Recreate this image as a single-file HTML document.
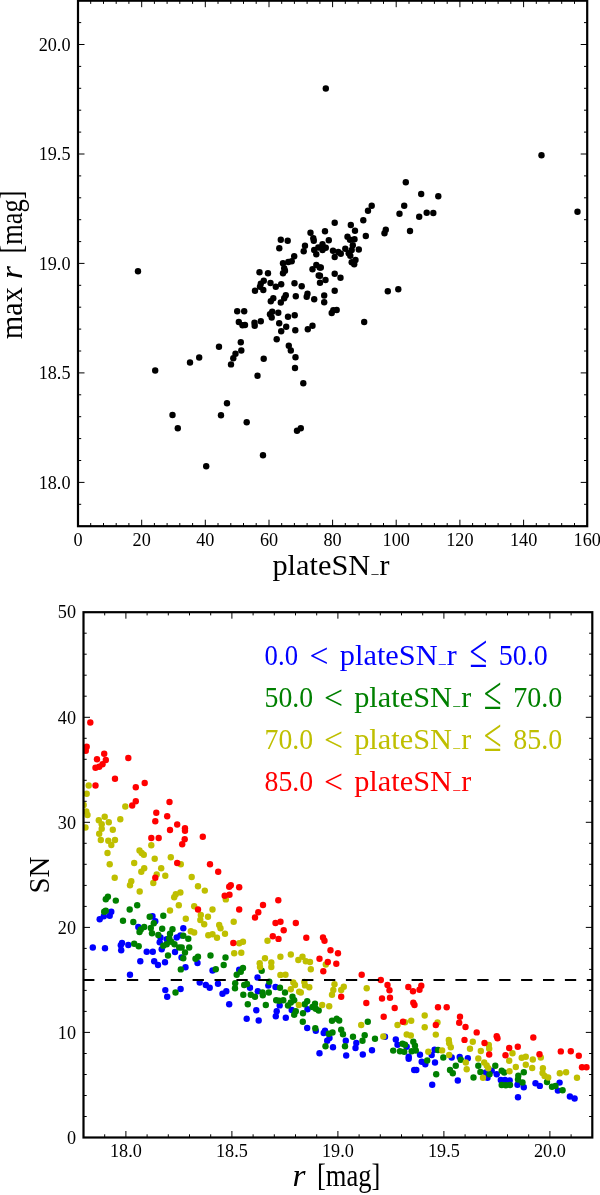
<!DOCTYPE html>
<html lang="en"><head><meta charset="utf-8"><title>plateSN_r</title>
<style>html,body{margin:0;padding:0;background:#fff}svg{display:block}text{font-family:"Liberation Serif","DejaVu Serif",serif;fill:#000;white-space:pre}.t{font-size:18.2px}.l{font-size:28.6px}.k{stroke:#000;stroke-width:1;fill:none}.f{stroke:#000;stroke-width:2.2;fill:none}</style></head><body>
<svg style="will-change:transform" width="600" height="1195" viewBox="0 0 600 1195">
<rect width="600" height="1195" fill="#fff"/>
<g fill="#000">
<circle cx="138.0" cy="271.2" r="3.2"/>
<circle cx="155.2" cy="370.5" r="3.2"/>
<circle cx="190.0" cy="362.5" r="3.2"/>
<circle cx="199.2" cy="357.5" r="3.2"/>
<circle cx="219.0" cy="346.7" r="3.2"/>
<circle cx="231.0" cy="364.4" r="3.2"/>
<circle cx="172.5" cy="415.0" r="3.2"/>
<circle cx="177.8" cy="428.2" r="3.2"/>
<circle cx="206.2" cy="466.2" r="3.2"/>
<circle cx="221.0" cy="415.2" r="3.2"/>
<circle cx="227.0" cy="403.2" r="3.2"/>
<circle cx="280.8" cy="239.7" r="3.2"/>
<circle cx="287.7" cy="240.7" r="3.2"/>
<circle cx="279.3" cy="248.2" r="3.2"/>
<circle cx="310.5" cy="232.8" r="3.2"/>
<circle cx="313.3" cy="238.3" r="3.2"/>
<circle cx="313.8" cy="240.8" r="3.2"/>
<circle cx="305.0" cy="245.8" r="3.2"/>
<circle cx="303.7" cy="251.3" r="3.2"/>
<circle cx="314.2" cy="250.0" r="3.2"/>
<circle cx="318.3" cy="247.5" r="3.2"/>
<circle cx="316.3" cy="254.2" r="3.2"/>
<circle cx="294.2" cy="256.2" r="3.2"/>
<circle cx="291.7" cy="261.3" r="3.2"/>
<circle cx="288.3" cy="262.0" r="3.2"/>
<circle cx="283.0" cy="263.3" r="3.2"/>
<circle cx="284.2" cy="268.3" r="3.2"/>
<circle cx="285.0" cy="270.8" r="3.2"/>
<circle cx="283.0" cy="273.3" r="3.2"/>
<circle cx="259.5" cy="272.3" r="3.2"/>
<circle cx="268.0" cy="273.3" r="3.2"/>
<circle cx="316.3" cy="265.0" r="3.2"/>
<circle cx="312.5" cy="269.2" r="3.2"/>
<circle cx="319.7" cy="267.5" r="3.2"/>
<circle cx="318.7" cy="275.5" r="3.2"/>
<circle cx="263.8" cy="280.8" r="3.2"/>
<circle cx="260.8" cy="283.8" r="3.2"/>
<circle cx="260.0" cy="286.7" r="3.2"/>
<circle cx="255.0" cy="290.8" r="3.2"/>
<circle cx="263.3" cy="290.0" r="3.2"/>
<circle cx="270.5" cy="283.0" r="3.2"/>
<circle cx="275.8" cy="286.7" r="3.2"/>
<circle cx="281.2" cy="284.2" r="3.2"/>
<circle cx="294.5" cy="283.3" r="3.2"/>
<circle cx="301.7" cy="286.2" r="3.2"/>
<circle cx="320.0" cy="282.8" r="3.2"/>
<circle cx="273.3" cy="298.3" r="3.2"/>
<circle cx="285.8" cy="295.3" r="3.2"/>
<circle cx="284.2" cy="298.3" r="3.2"/>
<circle cx="295.8" cy="296.3" r="3.2"/>
<circle cx="307.5" cy="293.7" r="3.2"/>
<circle cx="306.7" cy="296.7" r="3.2"/>
<circle cx="314.2" cy="299.2" r="3.2"/>
<circle cx="371.7" cy="205.8" r="3.2"/>
<circle cx="368.0" cy="210.8" r="3.2"/>
<circle cx="363.3" cy="220.3" r="3.2"/>
<circle cx="404.2" cy="205.8" r="3.2"/>
<circle cx="399.5" cy="213.7" r="3.2"/>
<circle cx="419.2" cy="216.7" r="3.2"/>
<circle cx="410.0" cy="231.0" r="3.2"/>
<circle cx="385.8" cy="229.7" r="3.2"/>
<circle cx="384.5" cy="233.3" r="3.2"/>
<circle cx="334.7" cy="222.7" r="3.2"/>
<circle cx="350.8" cy="225.0" r="3.2"/>
<circle cx="325.0" cy="231.2" r="3.2"/>
<circle cx="355.0" cy="230.8" r="3.2"/>
<circle cx="365.8" cy="236.0" r="3.2"/>
<circle cx="347.5" cy="236.7" r="3.2"/>
<circle cx="350.0" cy="239.7" r="3.2"/>
<circle cx="354.5" cy="239.2" r="3.2"/>
<circle cx="328.8" cy="240.3" r="3.2"/>
<circle cx="322.5" cy="244.2" r="3.2"/>
<circle cx="325.8" cy="247.8" r="3.2"/>
<circle cx="322.5" cy="250.0" r="3.2"/>
<circle cx="352.8" cy="245.3" r="3.2"/>
<circle cx="345.3" cy="248.8" r="3.2"/>
<circle cx="351.7" cy="250.0" r="3.2"/>
<circle cx="358.8" cy="249.5" r="3.2"/>
<circle cx="333.0" cy="250.8" r="3.2"/>
<circle cx="338.3" cy="252.0" r="3.2"/>
<circle cx="340.8" cy="253.8" r="3.2"/>
<circle cx="334.7" cy="257.0" r="3.2"/>
<circle cx="348.7" cy="253.3" r="3.2"/>
<circle cx="350.3" cy="255.8" r="3.2"/>
<circle cx="355.5" cy="260.0" r="3.2"/>
<circle cx="351.7" cy="262.2" r="3.2"/>
<circle cx="354.2" cy="264.2" r="3.2"/>
<circle cx="320.8" cy="267.5" r="3.2"/>
<circle cx="320.0" cy="275.8" r="3.2"/>
<circle cx="325.5" cy="280.0" r="3.2"/>
<circle cx="334.7" cy="273.8" r="3.2"/>
<circle cx="340.5" cy="277.7" r="3.2"/>
<circle cx="334.7" cy="290.8" r="3.2"/>
<circle cx="324.2" cy="295.5" r="3.2"/>
<circle cx="387.8" cy="291.2" r="3.2"/>
<circle cx="398.3" cy="289.2" r="3.2"/>
<circle cx="270.8" cy="301.3" r="3.2"/>
<circle cx="280.8" cy="302.5" r="3.2"/>
<circle cx="237.2" cy="311.2" r="3.2"/>
<circle cx="244.2" cy="311.2" r="3.2"/>
<circle cx="272.2" cy="311.7" r="3.2"/>
<circle cx="270.0" cy="314.2" r="3.2"/>
<circle cx="271.7" cy="317.5" r="3.2"/>
<circle cx="278.3" cy="312.8" r="3.2"/>
<circle cx="294.7" cy="315.2" r="3.2"/>
<circle cx="288.0" cy="316.7" r="3.2"/>
<circle cx="238.8" cy="322.0" r="3.2"/>
<circle cx="242.5" cy="325.3" r="3.2"/>
<circle cx="245.0" cy="325.0" r="3.2"/>
<circle cx="254.5" cy="322.8" r="3.2"/>
<circle cx="254.7" cy="325.8" r="3.2"/>
<circle cx="260.8" cy="321.3" r="3.2"/>
<circle cx="279.2" cy="323.3" r="3.2"/>
<circle cx="286.2" cy="326.7" r="3.2"/>
<circle cx="281.2" cy="331.3" r="3.2"/>
<circle cx="295.3" cy="330.3" r="3.2"/>
<circle cx="312.5" cy="325.8" r="3.2"/>
<circle cx="307.8" cy="329.2" r="3.2"/>
<circle cx="276.7" cy="339.2" r="3.2"/>
<circle cx="240.8" cy="342.2" r="3.2"/>
<circle cx="241.3" cy="350.5" r="3.2"/>
<circle cx="235.5" cy="353.8" r="3.2"/>
<circle cx="233.3" cy="358.3" r="3.2"/>
<circle cx="288.8" cy="345.8" r="3.2"/>
<circle cx="290.8" cy="350.5" r="3.2"/>
<circle cx="295.5" cy="357.2" r="3.2"/>
<circle cx="263.7" cy="358.7" r="3.2"/>
<circle cx="295.0" cy="368.0" r="3.2"/>
<circle cx="257.5" cy="375.8" r="3.2"/>
<circle cx="303.3" cy="383.3" r="3.2"/>
<circle cx="324.2" cy="302.2" r="3.2"/>
<circle cx="336.7" cy="310.0" r="3.2"/>
<circle cx="333.3" cy="310.3" r="3.2"/>
<circle cx="331.7" cy="313.0" r="3.2"/>
<circle cx="364.2" cy="322.0" r="3.2"/>
<circle cx="246.7" cy="422.2" r="3.2"/>
<circle cx="300.8" cy="428.3" r="3.2"/>
<circle cx="297.0" cy="430.8" r="3.2"/>
<circle cx="263.0" cy="455.3" r="3.2"/>
<circle cx="405.8" cy="182.2" r="3.2"/>
<circle cx="421.2" cy="194.0" r="3.2"/>
<circle cx="438.3" cy="196.2" r="3.2"/>
<circle cx="426.7" cy="212.7" r="3.2"/>
<circle cx="433.3" cy="213.0" r="3.2"/>
<circle cx="541.5" cy="155.3" r="3.2"/>
<circle cx="577.5" cy="211.7" r="3.2"/>
<circle cx="325.8" cy="88.5" r="3.2"/>
</g>
<path class="k" d="M90.7 526.2v-3.2M90.7 0.7v3.2M103.5 526.2v-3.2M103.5 0.7v3.2M116.2 526.2v-3.2M116.2 0.7v3.2M128.9 526.2v-3.2M128.9 0.7v3.2M141.7 526.2v-6.5M141.7 0.7v6.5M154.4 526.2v-3.2M154.4 0.7v3.2M167.1 526.2v-3.2M167.1 0.7v3.2M179.8 526.2v-3.2M179.8 0.7v3.2M192.6 526.2v-3.2M192.6 0.7v3.2M205.3 526.2v-6.5M205.3 0.7v6.5M218.0 526.2v-3.2M218.0 0.7v3.2M230.8 526.2v-3.2M230.8 0.7v3.2M243.5 526.2v-3.2M243.5 0.7v3.2M256.2 526.2v-3.2M256.2 0.7v3.2M269.0 526.2v-6.5M269.0 0.7v6.5M281.7 526.2v-3.2M281.7 0.7v3.2M294.4 526.2v-3.2M294.4 0.7v3.2M307.1 526.2v-3.2M307.1 0.7v3.2M319.9 526.2v-3.2M319.9 0.7v3.2M332.6 526.2v-6.5M332.6 0.7v6.5M345.3 526.2v-3.2M345.3 0.7v3.2M358.1 526.2v-3.2M358.1 0.7v3.2M370.8 526.2v-3.2M370.8 0.7v3.2M383.5 526.2v-3.2M383.5 0.7v3.2M396.2 526.2v-6.5M396.2 0.7v6.5M409.0 526.2v-3.2M409.0 0.7v3.2M421.7 526.2v-3.2M421.7 0.7v3.2M434.4 526.2v-3.2M434.4 0.7v3.2M447.2 526.2v-3.2M447.2 0.7v3.2M459.9 526.2v-6.5M459.9 0.7v6.5M472.6 526.2v-3.2M472.6 0.7v3.2M485.4 526.2v-3.2M485.4 0.7v3.2M498.1 526.2v-3.2M498.1 0.7v3.2M510.8 526.2v-3.2M510.8 0.7v3.2M523.6 526.2v-6.5M523.6 0.7v6.5M536.3 526.2v-3.2M536.3 0.7v3.2M549.0 526.2v-3.2M549.0 0.7v3.2M561.7 526.2v-3.2M561.7 0.7v3.2M574.5 526.2v-3.2M574.5 0.7v3.2M78.0 504.3h3.2M587.2 504.3h-3.2M78.0 482.4h6.5M587.2 482.4h-6.5M78.0 460.5h3.2M587.2 460.5h-3.2M78.0 438.6h3.2M587.2 438.6h-3.2M78.0 416.7h3.2M587.2 416.7h-3.2M78.0 394.8h3.2M587.2 394.8h-3.2M78.0 372.9h6.5M587.2 372.9h-6.5M78.0 351.0h3.2M587.2 351.0h-3.2M78.0 329.1h3.2M587.2 329.1h-3.2M78.0 307.2h3.2M587.2 307.2h-3.2M78.0 285.3h3.2M587.2 285.3h-3.2M78.0 263.4h6.5M587.2 263.4h-6.5M78.0 241.6h3.2M587.2 241.6h-3.2M78.0 219.7h3.2M587.2 219.7h-3.2M78.0 197.8h3.2M587.2 197.8h-3.2M78.0 175.9h3.2M587.2 175.9h-3.2M78.0 154.0h6.5M587.2 154.0h-6.5M78.0 132.1h3.2M587.2 132.1h-3.2M78.0 110.2h3.2M587.2 110.2h-3.2M78.0 88.3h3.2M587.2 88.3h-3.2M78.0 66.4h3.2M587.2 66.4h-3.2M78.0 44.5h6.5M587.2 44.5h-6.5M78.0 22.6h3.2M587.2 22.6h-3.2"/>
<rect class="f" x="78.0" y="0.7" width="509.2" height="525.5"/>
<text class="t" text-anchor="middle" x="78.0" y="546.3">0</text>
<text class="t" text-anchor="middle" x="141.7" y="546.3">20</text>
<text class="t" text-anchor="middle" x="205.3" y="546.3">40</text>
<text class="t" text-anchor="middle" x="269.0" y="546.3">60</text>
<text class="t" text-anchor="middle" x="332.6" y="546.3">80</text>
<text class="t" text-anchor="middle" x="396.2" y="546.3">100</text>
<text class="t" text-anchor="middle" x="459.9" y="546.3">120</text>
<text class="t" text-anchor="middle" x="523.6" y="546.3">140</text>
<text class="t" text-anchor="middle" x="587.2" y="546.3">160</text>
<text class="t" text-anchor="end" x="70.5" y="488.6">18.0</text>
<text class="t" text-anchor="end" x="70.5" y="379.1">18.5</text>
<text class="t" text-anchor="end" x="70.5" y="269.6">19.0</text>
<text class="t" text-anchor="end" x="70.5" y="160.2">19.5</text>
<text class="t" text-anchor="end" x="70.5" y="50.7">20.0</text>
<text class="l" y="574.5"><tspan x="272.4" textLength="97.8" lengthAdjust="spacingAndGlyphs">plateSN</tspan><tspan x="371.4" textLength="7.0" lengthAdjust="spacingAndGlyphs" dy="-1.6" font-size="14">_</tspan><tspan x="379.4" textLength="10.0" lengthAdjust="spacingAndGlyphs" dy="1.6">r</tspan></text>
<text class="l" transform="translate(22.3 339.2) rotate(-90) scale(1 1.07)" y="0"><tspan x="0.0" textLength="52.0" lengthAdjust="spacingAndGlyphs">max</tspan> <tspan x="60.2" textLength="13.0" lengthAdjust="spacingAndGlyphs" font-style="italic">r</tspan> <tspan x="85.6" textLength="63.2" lengthAdjust="spacingAndGlyphs">[mag]</tspan></text>
<clipPath id="c2"><rect x="83.5" y="612.2" width="508.8" height="525.3"/></clipPath>
<g clip-path="url(#c2)">
<g fill="#0000ff">
<circle cx="111.3" cy="911.7" r="3.2"/>
<circle cx="109.7" cy="915.8" r="3.2"/>
<circle cx="103.8" cy="916.3" r="3.2"/>
<circle cx="99.7" cy="919.2" r="3.2"/>
<circle cx="152.5" cy="916.3" r="3.2"/>
<circle cx="155.3" cy="921.3" r="3.2"/>
<circle cx="138.3" cy="927.0" r="3.2"/>
<circle cx="92.8" cy="947.5" r="3.2"/>
<circle cx="105.0" cy="948.3" r="3.2"/>
<circle cx="122.0" cy="943.0" r="3.2"/>
<circle cx="120.8" cy="945.3" r="3.2"/>
<circle cx="121.2" cy="950.3" r="3.2"/>
<circle cx="128.3" cy="945.0" r="3.2"/>
<circle cx="146.7" cy="951.7" r="3.2"/>
<circle cx="152.8" cy="951.7" r="3.2"/>
<circle cx="159.7" cy="942.2" r="3.2"/>
<circle cx="160.5" cy="937.5" r="3.2"/>
<circle cx="161.7" cy="949.2" r="3.2"/>
<circle cx="166.7" cy="939.2" r="3.2"/>
<circle cx="176.7" cy="937.5" r="3.2"/>
<circle cx="180.4" cy="935.4" r="3.2"/>
<circle cx="175.0" cy="952.0" r="3.2"/>
<circle cx="140.3" cy="961.2" r="3.2"/>
<circle cx="154.2" cy="961.2" r="3.2"/>
<circle cx="158.0" cy="965.0" r="3.2"/>
<circle cx="165.0" cy="962.2" r="3.2"/>
<circle cx="181.5" cy="957.5" r="3.2"/>
<circle cx="130.0" cy="974.7" r="3.2"/>
<circle cx="165.3" cy="990.1" r="3.2"/>
<circle cx="167.2" cy="996.7" r="3.2"/>
<circle cx="180.6" cy="989.0" r="3.2"/>
<circle cx="183.3" cy="928.3" r="3.2"/>
<circle cx="197.5" cy="963.0" r="3.2"/>
<circle cx="185.5" cy="967.2" r="3.2"/>
<circle cx="212.5" cy="970.5" r="3.2"/>
<circle cx="239.2" cy="969.7" r="3.2"/>
<circle cx="257.5" cy="977.5" r="3.2"/>
<circle cx="199.7" cy="982.5" r="3.2"/>
<circle cx="205.8" cy="985.0" r="3.2"/>
<circle cx="209.7" cy="987.7" r="3.2"/>
<circle cx="218.0" cy="983.8" r="3.2"/>
<circle cx="250.0" cy="987.7" r="3.2"/>
<circle cx="268.3" cy="985.6" r="3.2"/>
<circle cx="275.5" cy="987.0" r="3.2"/>
<circle cx="226.3" cy="991.2" r="3.2"/>
<circle cx="222.5" cy="993.7" r="3.2"/>
<circle cx="229.2" cy="1004.2" r="3.2"/>
<circle cx="257.8" cy="991.3" r="3.2"/>
<circle cx="256.3" cy="1010.3" r="3.2"/>
<circle cx="246.7" cy="1018.8" r="3.2"/>
<circle cx="258.7" cy="1020.5" r="3.2"/>
<circle cx="276.7" cy="1011.2" r="3.2"/>
<circle cx="275.8" cy="1016.3" r="3.2"/>
<circle cx="279.7" cy="1005.4" r="3.2"/>
<circle cx="285.8" cy="1017.8" r="3.2"/>
<circle cx="291.7" cy="1010.0" r="3.2"/>
<circle cx="307.5" cy="1009.2" r="3.2"/>
<circle cx="307.2" cy="1028.0" r="3.2"/>
<circle cx="315.8" cy="1030.8" r="3.2"/>
<circle cx="325.0" cy="1030.8" r="3.2"/>
<circle cx="323.7" cy="1033.0" r="3.2"/>
<circle cx="329.5" cy="1038.0" r="3.2"/>
<circle cx="327.2" cy="1040.8" r="3.2"/>
<circle cx="345.8" cy="1040.8" r="3.2"/>
<circle cx="356.3" cy="1043.0" r="3.2"/>
<circle cx="355.5" cy="1048.0" r="3.2"/>
<circle cx="333.0" cy="1047.2" r="3.2"/>
<circle cx="319.5" cy="1053.3" r="3.2"/>
<circle cx="346.2" cy="1055.5" r="3.2"/>
<circle cx="362.8" cy="1054.5" r="3.2"/>
<circle cx="372.0" cy="1050.3" r="3.2"/>
<circle cx="385.0" cy="1036.7" r="3.2"/>
<circle cx="395.8" cy="1039.5" r="3.2"/>
<circle cx="397.5" cy="1044.7" r="3.2"/>
<circle cx="434.6" cy="1049.7" r="3.2"/>
<circle cx="406.7" cy="1046.7" r="3.2"/>
<circle cx="420.0" cy="1054.7" r="3.2"/>
<circle cx="408.7" cy="1056.7" r="3.2"/>
<circle cx="408.7" cy="1058.8" r="3.2"/>
<circle cx="421.7" cy="1061.7" r="3.2"/>
<circle cx="425.3" cy="1064.2" r="3.2"/>
<circle cx="435.0" cy="1062.5" r="3.2"/>
<circle cx="431.7" cy="1055.0" r="3.2"/>
<circle cx="451.7" cy="1057.5" r="3.2"/>
<circle cx="459.7" cy="1057.0" r="3.2"/>
<circle cx="467.8" cy="1058.3" r="3.2"/>
<circle cx="414.2" cy="1070.0" r="3.2"/>
<circle cx="416.3" cy="1070.0" r="3.2"/>
<circle cx="432.2" cy="1084.7" r="3.2"/>
<circle cx="457.8" cy="1080.5" r="3.2"/>
<circle cx="485.8" cy="1072.5" r="3.2"/>
<circle cx="491.7" cy="1070.8" r="3.2"/>
<circle cx="496.7" cy="1074.2" r="3.2"/>
<circle cx="487.5" cy="1077.8" r="3.2"/>
<circle cx="500.8" cy="1080.0" r="3.2"/>
<circle cx="505.0" cy="1080.0" r="3.2"/>
<circle cx="509.7" cy="1080.5" r="3.2"/>
<circle cx="517.5" cy="1084.7" r="3.2"/>
<circle cx="523.8" cy="1087.2" r="3.2"/>
<circle cx="518.0" cy="1097.2" r="3.2"/>
<circle cx="535.5" cy="1083.3" r="3.2"/>
<circle cx="539.8" cy="1085.9" r="3.2"/>
<circle cx="559.6" cy="1082.6" r="3.2"/>
<circle cx="557.9" cy="1090.6" r="3.2"/>
<circle cx="569.9" cy="1096.5" r="3.2"/>
<circle cx="574.6" cy="1098.5" r="3.2"/>
</g>
<g fill="#008000">
<circle cx="107.9" cy="896.7" r="3.2"/>
<circle cx="105.8" cy="899.2" r="3.2"/>
<circle cx="115.8" cy="900.6" r="3.2"/>
<circle cx="137.2" cy="905.3" r="3.2"/>
<circle cx="129.7" cy="909.5" r="3.2"/>
<circle cx="105.8" cy="910.8" r="3.2"/>
<circle cx="104.2" cy="911.7" r="3.2"/>
<circle cx="123.0" cy="920.8" r="3.2"/>
<circle cx="133.3" cy="922.0" r="3.2"/>
<circle cx="149.7" cy="916.7" r="3.2"/>
<circle cx="163.3" cy="915.8" r="3.2"/>
<circle cx="153.8" cy="923.3" r="3.2"/>
<circle cx="144.2" cy="927.0" r="3.2"/>
<circle cx="140.8" cy="929.5" r="3.2"/>
<circle cx="139.5" cy="932.0" r="3.2"/>
<circle cx="150.8" cy="928.0" r="3.2"/>
<circle cx="152.0" cy="933.3" r="3.2"/>
<circle cx="162.2" cy="928.7" r="3.2"/>
<circle cx="158.3" cy="935.0" r="3.2"/>
<circle cx="172.5" cy="929.2" r="3.2"/>
<circle cx="170.0" cy="933.7" r="3.2"/>
<circle cx="169.2" cy="938.3" r="3.2"/>
<circle cx="171.3" cy="941.7" r="3.2"/>
<circle cx="174.5" cy="944.2" r="3.2"/>
<circle cx="166.7" cy="944.2" r="3.2"/>
<circle cx="163.3" cy="945.8" r="3.2"/>
<circle cx="134.2" cy="943.8" r="3.2"/>
<circle cx="138.7" cy="946.3" r="3.2"/>
<circle cx="168.0" cy="955.5" r="3.2"/>
<circle cx="179.2" cy="947.5" r="3.2"/>
<circle cx="180.8" cy="969.4" r="3.2"/>
<circle cx="175.5" cy="992.5" r="3.2"/>
<circle cx="183.3" cy="935.8" r="3.2"/>
<circle cx="188.3" cy="938.8" r="3.2"/>
<circle cx="181.7" cy="947.5" r="3.2"/>
<circle cx="189.2" cy="947.5" r="3.2"/>
<circle cx="185.0" cy="952.5" r="3.2"/>
<circle cx="183.3" cy="958.3" r="3.2"/>
<circle cx="198.0" cy="956.7" r="3.2"/>
<circle cx="195.5" cy="958.8" r="3.2"/>
<circle cx="210.5" cy="955.5" r="3.2"/>
<circle cx="225.5" cy="957.5" r="3.2"/>
<circle cx="223.7" cy="965.0" r="3.2"/>
<circle cx="215.8" cy="969.2" r="3.2"/>
<circle cx="243.0" cy="968.0" r="3.2"/>
<circle cx="240.8" cy="971.7" r="3.2"/>
<circle cx="236.7" cy="974.7" r="3.2"/>
<circle cx="261.7" cy="970.8" r="3.2"/>
<circle cx="269.3" cy="981.7" r="3.2"/>
<circle cx="235.2" cy="983.2" r="3.2"/>
<circle cx="244.2" cy="985.0" r="3.2"/>
<circle cx="247.0" cy="984.0" r="3.2"/>
<circle cx="235.0" cy="988.2" r="3.2"/>
<circle cx="280.0" cy="987.8" r="3.2"/>
<circle cx="243.3" cy="994.7" r="3.2"/>
<circle cx="250.8" cy="994.7" r="3.2"/>
<circle cx="255.0" cy="996.7" r="3.2"/>
<circle cx="262.5" cy="992.5" r="3.2"/>
<circle cx="262.8" cy="995.3" r="3.2"/>
<circle cx="268.8" cy="992.5" r="3.2"/>
<circle cx="247.8" cy="1004.2" r="3.2"/>
<circle cx="265.8" cy="1005.0" r="3.2"/>
<circle cx="276.2" cy="1000.3" r="3.2"/>
<circle cx="279.2" cy="1000.8" r="3.2"/>
<circle cx="285.0" cy="992.5" r="3.2"/>
<circle cx="292.5" cy="996.7" r="3.2"/>
<circle cx="283.3" cy="1000.3" r="3.2"/>
<circle cx="294.2" cy="1000.3" r="3.2"/>
<circle cx="290.8" cy="1002.5" r="3.2"/>
<circle cx="288.0" cy="1005.5" r="3.2"/>
<circle cx="307.2" cy="1001.2" r="3.2"/>
<circle cx="304.7" cy="1004.2" r="3.2"/>
<circle cx="315.0" cy="1003.8" r="3.2"/>
<circle cx="312.5" cy="1007.0" r="3.2"/>
<circle cx="315.8" cy="1008.7" r="3.2"/>
<circle cx="318.7" cy="1010.5" r="3.2"/>
<circle cx="295.8" cy="1011.3" r="3.2"/>
<circle cx="294.2" cy="1014.7" r="3.2"/>
<circle cx="303.0" cy="1013.3" r="3.2"/>
<circle cx="302.8" cy="1021.7" r="3.2"/>
<circle cx="315.3" cy="1028.3" r="3.2"/>
<circle cx="336.7" cy="1018.7" r="3.2"/>
<circle cx="332.0" cy="1020.8" r="3.2"/>
<circle cx="339.2" cy="1020.5" r="3.2"/>
<circle cx="367.8" cy="1021.7" r="3.2"/>
<circle cx="341.2" cy="1029.7" r="3.2"/>
<circle cx="332.5" cy="1032.5" r="3.2"/>
<circle cx="328.8" cy="1033.7" r="3.2"/>
<circle cx="343.0" cy="1034.2" r="3.2"/>
<circle cx="353.0" cy="1036.7" r="3.2"/>
<circle cx="364.7" cy="1035.3" r="3.2"/>
<circle cx="362.5" cy="1040.8" r="3.2"/>
<circle cx="375.0" cy="1038.7" r="3.2"/>
<circle cx="325.5" cy="1046.2" r="3.2"/>
<circle cx="345.0" cy="1046.2" r="3.2"/>
<circle cx="402.5" cy="1043.8" r="3.2"/>
<circle cx="405.0" cy="1044.8" r="3.2"/>
<circle cx="413.3" cy="1041.7" r="3.2"/>
<circle cx="415.0" cy="1045.8" r="3.2"/>
<circle cx="393.2" cy="1050.6" r="3.2"/>
<circle cx="438.0" cy="1050.0" r="3.2"/>
<circle cx="400.0" cy="1051.2" r="3.2"/>
<circle cx="404.2" cy="1051.7" r="3.2"/>
<circle cx="411.7" cy="1051.2" r="3.2"/>
<circle cx="415.8" cy="1050.5" r="3.2"/>
<circle cx="427.2" cy="1060.5" r="3.2"/>
<circle cx="443.3" cy="1057.5" r="3.2"/>
<circle cx="460.8" cy="1059.7" r="3.2"/>
<circle cx="455.8" cy="1065.8" r="3.2"/>
<circle cx="450.0" cy="1070.0" r="3.2"/>
<circle cx="452.8" cy="1073.3" r="3.2"/>
<circle cx="436.2" cy="1074.2" r="3.2"/>
<circle cx="473.5" cy="1077.5" r="3.2"/>
<circle cx="478.3" cy="1065.8" r="3.2"/>
<circle cx="480.4" cy="1072.0" r="3.2"/>
<circle cx="495.3" cy="1065.8" r="3.2"/>
<circle cx="489.5" cy="1074.2" r="3.2"/>
<circle cx="501.7" cy="1070.8" r="3.2"/>
<circle cx="504.2" cy="1072.5" r="3.2"/>
<circle cx="523.8" cy="1072.2" r="3.2"/>
<circle cx="518.3" cy="1075.8" r="3.2"/>
<circle cx="518.0" cy="1079.5" r="3.2"/>
<circle cx="522.5" cy="1082.5" r="3.2"/>
<circle cx="501.7" cy="1085.0" r="3.2"/>
<circle cx="505.8" cy="1085.3" r="3.2"/>
<circle cx="510.0" cy="1085.0" r="3.2"/>
<circle cx="547.0" cy="1082.0" r="3.2"/>
<circle cx="552.0" cy="1086.8" r="3.2"/>
<circle cx="555.5" cy="1086.0" r="3.2"/>
<circle cx="562.6" cy="1090.3" r="3.2"/>
</g>
<g fill="#bfbf00">
<circle cx="88.7" cy="785.5" r="3.2"/>
<circle cx="86.7" cy="793.8" r="3.2"/>
<circle cx="125.3" cy="806.5" r="3.2"/>
<circle cx="83.7" cy="805.0" r="3.2"/>
<circle cx="86.3" cy="811.5" r="3.2"/>
<circle cx="87.5" cy="815.0" r="3.2"/>
<circle cx="85.5" cy="827.5" r="3.2"/>
<circle cx="104.7" cy="816.7" r="3.2"/>
<circle cx="98.8" cy="820.3" r="3.2"/>
<circle cx="101.7" cy="824.2" r="3.2"/>
<circle cx="108.8" cy="822.2" r="3.2"/>
<circle cx="120.3" cy="819.2" r="3.2"/>
<circle cx="101.7" cy="828.8" r="3.2"/>
<circle cx="112.8" cy="829.7" r="3.2"/>
<circle cx="99.2" cy="833.8" r="3.2"/>
<circle cx="100.8" cy="840.0" r="3.2"/>
<circle cx="108.3" cy="840.8" r="3.2"/>
<circle cx="115.0" cy="840.0" r="3.2"/>
<circle cx="111.3" cy="845.0" r="3.2"/>
<circle cx="107.5" cy="853.0" r="3.2"/>
<circle cx="109.7" cy="864.2" r="3.2"/>
<circle cx="114.7" cy="877.8" r="3.2"/>
<circle cx="151.3" cy="845.3" r="3.2"/>
<circle cx="139.5" cy="850.5" r="3.2"/>
<circle cx="141.7" cy="853.0" r="3.2"/>
<circle cx="143.8" cy="854.7" r="3.2"/>
<circle cx="154.7" cy="858.8" r="3.2"/>
<circle cx="170.8" cy="857.2" r="3.2"/>
<circle cx="134.2" cy="863.0" r="3.2"/>
<circle cx="144.2" cy="868.3" r="3.2"/>
<circle cx="141.3" cy="871.7" r="3.2"/>
<circle cx="161.2" cy="868.3" r="3.2"/>
<circle cx="165.3" cy="875.8" r="3.2"/>
<circle cx="156.7" cy="874.5" r="3.2"/>
<circle cx="153.3" cy="883.0" r="3.2"/>
<circle cx="131.3" cy="881.2" r="3.2"/>
<circle cx="130.0" cy="885.3" r="3.2"/>
<circle cx="139.7" cy="891.5" r="3.2"/>
<circle cx="175.8" cy="894.2" r="3.2"/>
<circle cx="180.4" cy="892.5" r="3.2"/>
<circle cx="174.2" cy="897.2" r="3.2"/>
<circle cx="178.8" cy="905.2" r="3.2"/>
<circle cx="170.0" cy="910.5" r="3.2"/>
<circle cx="180.8" cy="864.2" r="3.2"/>
<circle cx="191.7" cy="877.0" r="3.2"/>
<circle cx="198.0" cy="886.3" r="3.2"/>
<circle cx="204.8" cy="890.6" r="3.2"/>
<circle cx="225.8" cy="899.4" r="3.2"/>
<circle cx="194.2" cy="906.2" r="3.2"/>
<circle cx="212.5" cy="909.5" r="3.2"/>
<circle cx="200.8" cy="915.0" r="3.2"/>
<circle cx="208.0" cy="916.7" r="3.2"/>
<circle cx="185.8" cy="918.7" r="3.2"/>
<circle cx="200.3" cy="920.0" r="3.2"/>
<circle cx="204.2" cy="924.2" r="3.2"/>
<circle cx="233.7" cy="921.7" r="3.2"/>
<circle cx="219.2" cy="925.0" r="3.2"/>
<circle cx="220.5" cy="928.3" r="3.2"/>
<circle cx="225.0" cy="933.7" r="3.2"/>
<circle cx="190.8" cy="931.3" r="3.2"/>
<circle cx="194.2" cy="932.5" r="3.2"/>
<circle cx="208.3" cy="935.3" r="3.2"/>
<circle cx="212.5" cy="934.2" r="3.2"/>
<circle cx="217.0" cy="937.8" r="3.2"/>
<circle cx="267.5" cy="940.8" r="3.2"/>
<circle cx="243.0" cy="941.7" r="3.2"/>
<circle cx="239.2" cy="943.3" r="3.2"/>
<circle cx="234.2" cy="953.3" r="3.2"/>
<circle cx="241.3" cy="952.8" r="3.2"/>
<circle cx="265.0" cy="958.3" r="3.2"/>
<circle cx="271.3" cy="962.5" r="3.2"/>
<circle cx="271.3" cy="967.0" r="3.2"/>
<circle cx="259.7" cy="963.3" r="3.2"/>
<circle cx="260.0" cy="967.0" r="3.2"/>
<circle cx="280.4" cy="956.7" r="3.2"/>
<circle cx="280.4" cy="974.9" r="3.2"/>
<circle cx="290.8" cy="954.5" r="3.2"/>
<circle cx="302.5" cy="956.7" r="3.2"/>
<circle cx="298.3" cy="960.0" r="3.2"/>
<circle cx="305.8" cy="961.2" r="3.2"/>
<circle cx="310.0" cy="962.0" r="3.2"/>
<circle cx="310.8" cy="969.2" r="3.2"/>
<circle cx="325.8" cy="964.5" r="3.2"/>
<circle cx="285.5" cy="974.7" r="3.2"/>
<circle cx="293.3" cy="982.5" r="3.2"/>
<circle cx="295.0" cy="985.0" r="3.2"/>
<circle cx="304.3" cy="982.0" r="3.2"/>
<circle cx="305.0" cy="985.4" r="3.2"/>
<circle cx="309.3" cy="987.2" r="3.2"/>
<circle cx="290.8" cy="989.2" r="3.2"/>
<circle cx="299.2" cy="991.7" r="3.2"/>
<circle cx="300.8" cy="992.5" r="3.2"/>
<circle cx="334.5" cy="984.2" r="3.2"/>
<circle cx="333.3" cy="990.0" r="3.2"/>
<circle cx="332.0" cy="994.7" r="3.2"/>
<circle cx="343.8" cy="986.7" r="3.2"/>
<circle cx="341.2" cy="990.0" r="3.2"/>
<circle cx="366.7" cy="988.2" r="3.2"/>
<circle cx="298.8" cy="1005.0" r="3.2"/>
<circle cx="322.2" cy="1005.0" r="3.2"/>
<circle cx="329.2" cy="1006.2" r="3.2"/>
<circle cx="361.2" cy="1025.0" r="3.2"/>
<circle cx="424.7" cy="1015.5" r="3.2"/>
<circle cx="411.2" cy="1020.8" r="3.2"/>
<circle cx="405.0" cy="1022.2" r="3.2"/>
<circle cx="397.5" cy="1025.0" r="3.2"/>
<circle cx="437.5" cy="1022.5" r="3.2"/>
<circle cx="424.7" cy="1027.2" r="3.2"/>
<circle cx="406.7" cy="1034.5" r="3.2"/>
<circle cx="410.8" cy="1035.5" r="3.2"/>
<circle cx="435.8" cy="1034.6" r="3.2"/>
<circle cx="383.3" cy="1036.5" r="3.2"/>
<circle cx="448.8" cy="1040.0" r="3.2"/>
<circle cx="449.2" cy="1043.3" r="3.2"/>
<circle cx="450.8" cy="1047.2" r="3.2"/>
<circle cx="472.8" cy="1041.7" r="3.2"/>
<circle cx="470.0" cy="1048.8" r="3.2"/>
<circle cx="442.1" cy="1050.4" r="3.2"/>
<circle cx="428.3" cy="1051.7" r="3.2"/>
<circle cx="449.2" cy="1055.0" r="3.2"/>
<circle cx="480.8" cy="1051.0" r="3.2"/>
<circle cx="478.3" cy="1058.5" r="3.2"/>
<circle cx="465.8" cy="1062.5" r="3.2"/>
<circle cx="466.7" cy="1069.2" r="3.2"/>
<circle cx="488.8" cy="1045.0" r="3.2"/>
<circle cx="489.2" cy="1048.7" r="3.2"/>
<circle cx="512.5" cy="1053.3" r="3.2"/>
<circle cx="509.2" cy="1060.8" r="3.2"/>
<circle cx="484.2" cy="1062.5" r="3.2"/>
<circle cx="486.7" cy="1065.5" r="3.2"/>
<circle cx="488.3" cy="1068.3" r="3.2"/>
<circle cx="521.7" cy="1057.8" r="3.2"/>
<circle cx="525.8" cy="1056.7" r="3.2"/>
<circle cx="532.8" cy="1059.5" r="3.2"/>
<circle cx="540.8" cy="1057.5" r="3.2"/>
<circle cx="525.8" cy="1064.7" r="3.2"/>
<circle cx="515.8" cy="1067.0" r="3.2"/>
<circle cx="532.2" cy="1068.0" r="3.2"/>
<circle cx="509.5" cy="1071.2" r="3.2"/>
<circle cx="542.9" cy="1068.2" r="3.2"/>
<circle cx="542.5" cy="1072.9" r="3.2"/>
<circle cx="544.6" cy="1075.9" r="3.2"/>
<circle cx="548.2" cy="1077.5" r="3.2"/>
<circle cx="559.8" cy="1073.2" r="3.2"/>
<circle cx="566.1" cy="1072.2" r="3.2"/>
<circle cx="577.0" cy="1077.7" r="3.2"/>
<circle cx="483.0" cy="1077.8" r="3.2"/>
</g>
<g fill="#ff0000">
<circle cx="90.3" cy="722.5" r="3.2"/>
<circle cx="86.7" cy="746.7" r="3.2"/>
<circle cx="85.8" cy="750.8" r="3.2"/>
<circle cx="104.2" cy="753.8" r="3.2"/>
<circle cx="97.0" cy="759.2" r="3.2"/>
<circle cx="105.8" cy="760.0" r="3.2"/>
<circle cx="102.5" cy="764.2" r="3.2"/>
<circle cx="99.2" cy="766.7" r="3.2"/>
<circle cx="95.5" cy="767.8" r="3.2"/>
<circle cx="128.3" cy="758.0" r="3.2"/>
<circle cx="115.0" cy="778.8" r="3.2"/>
<circle cx="95.5" cy="785.5" r="3.2"/>
<circle cx="144.7" cy="783.0" r="3.2"/>
<circle cx="135.8" cy="787.3" r="3.2"/>
<circle cx="135.8" cy="801.2" r="3.2"/>
<circle cx="132.2" cy="805.5" r="3.2"/>
<circle cx="169.5" cy="802.0" r="3.2"/>
<circle cx="156.3" cy="812.8" r="3.2"/>
<circle cx="167.2" cy="816.2" r="3.2"/>
<circle cx="155.3" cy="821.2" r="3.2"/>
<circle cx="177.2" cy="824.5" r="3.2"/>
<circle cx="170.0" cy="830.0" r="3.2"/>
<circle cx="151.3" cy="838.0" r="3.2"/>
<circle cx="158.7" cy="838.0" r="3.2"/>
<circle cx="182.2" cy="844.2" r="3.2"/>
<circle cx="177.2" cy="863.0" r="3.2"/>
<circle cx="155.3" cy="877.8" r="3.2"/>
<circle cx="185.0" cy="828.3" r="3.2"/>
<circle cx="185.0" cy="830.8" r="3.2"/>
<circle cx="184.7" cy="839.2" r="3.2"/>
<circle cx="202.8" cy="836.7" r="3.2"/>
<circle cx="210.0" cy="864.2" r="3.2"/>
<circle cx="218.2" cy="871.7" r="3.2"/>
<circle cx="230.8" cy="885.3" r="3.2"/>
<circle cx="229.2" cy="886.7" r="3.2"/>
<circle cx="239.2" cy="887.2" r="3.2"/>
<circle cx="229.5" cy="894.7" r="3.2"/>
<circle cx="224.7" cy="895.8" r="3.2"/>
<circle cx="278.3" cy="900.3" r="3.2"/>
<circle cx="198.0" cy="909.5" r="3.2"/>
<circle cx="239.2" cy="909.5" r="3.2"/>
<circle cx="263.0" cy="905.0" r="3.2"/>
<circle cx="258.3" cy="912.2" r="3.2"/>
<circle cx="255.0" cy="917.5" r="3.2"/>
<circle cx="275.5" cy="923.0" r="3.2"/>
<circle cx="280.5" cy="921.7" r="3.2"/>
<circle cx="272.8" cy="936.3" r="3.2"/>
<circle cx="278.5" cy="938.9" r="3.2"/>
<circle cx="233.3" cy="943.0" r="3.2"/>
<circle cx="295.8" cy="923.0" r="3.2"/>
<circle cx="283.7" cy="930.3" r="3.2"/>
<circle cx="306.3" cy="937.8" r="3.2"/>
<circle cx="323.0" cy="937.5" r="3.2"/>
<circle cx="324.5" cy="940.8" r="3.2"/>
<circle cx="330.5" cy="950.3" r="3.2"/>
<circle cx="338.0" cy="953.3" r="3.2"/>
<circle cx="319.5" cy="958.7" r="3.2"/>
<circle cx="327.8" cy="962.0" r="3.2"/>
<circle cx="336.3" cy="963.8" r="3.2"/>
<circle cx="323.3" cy="971.3" r="3.2"/>
<circle cx="361.7" cy="974.7" r="3.2"/>
<circle cx="380.8" cy="980.0" r="3.2"/>
<circle cx="341.2" cy="996.7" r="3.2"/>
<circle cx="366.3" cy="1003.0" r="3.2"/>
<circle cx="382.0" cy="998.5" r="3.2"/>
<circle cx="387.5" cy="985.0" r="3.2"/>
<circle cx="389.5" cy="990.3" r="3.2"/>
<circle cx="390.0" cy="997.8" r="3.2"/>
<circle cx="394.7" cy="1008.0" r="3.2"/>
<circle cx="383.7" cy="1016.7" r="3.2"/>
<circle cx="408.3" cy="987.0" r="3.2"/>
<circle cx="413.0" cy="991.3" r="3.2"/>
<circle cx="421.3" cy="985.8" r="3.2"/>
<circle cx="419.5" cy="989.7" r="3.2"/>
<circle cx="413.3" cy="1002.8" r="3.2"/>
<circle cx="414.5" cy="1005.0" r="3.2"/>
<circle cx="438.0" cy="1007.2" r="3.2"/>
<circle cx="446.7" cy="1007.2" r="3.2"/>
<circle cx="403.0" cy="1021.7" r="3.2"/>
<circle cx="435.8" cy="1025.0" r="3.2"/>
<circle cx="460.0" cy="1016.7" r="3.2"/>
<circle cx="459.2" cy="1022.8" r="3.2"/>
<circle cx="465.5" cy="1027.0" r="3.2"/>
<circle cx="476.7" cy="1032.4" r="3.2"/>
<circle cx="464.5" cy="1039.9" r="3.2"/>
<circle cx="496.7" cy="1036.2" r="3.2"/>
<circle cx="497.5" cy="1038.3" r="3.2"/>
<circle cx="484.5" cy="1043.0" r="3.2"/>
<circle cx="489.2" cy="1054.5" r="3.2"/>
<circle cx="509.2" cy="1048.0" r="3.2"/>
<circle cx="517.8" cy="1046.7" r="3.2"/>
<circle cx="505.5" cy="1055.3" r="3.2"/>
<circle cx="533.3" cy="1037.5" r="3.2"/>
<circle cx="539.5" cy="1054.3" r="3.2"/>
<circle cx="560.8" cy="1051.4" r="3.2"/>
<circle cx="570.8" cy="1051.2" r="3.2"/>
<circle cx="578.8" cy="1055.7" r="3.2"/>
<circle cx="582.0" cy="1067.3" r="3.2"/>
<circle cx="586.5" cy="1067.3" r="3.2"/>
</g>
</g>
<path d="M83.1 980H592.3" stroke="#000" stroke-width="2" stroke-dasharray="11.3 10.6" fill="none"/>
<path class="k" d="M104.7 1137.5v-3.2M104.7 612.2v3.2M125.9 1137.5v-6.5M125.9 612.2v6.5M147.1 1137.5v-3.2M147.1 612.2v3.2M168.3 1137.5v-3.2M168.3 612.2v3.2M189.5 1137.5v-3.2M189.5 612.2v3.2M210.7 1137.5v-3.2M210.7 612.2v3.2M231.9 1137.5v-6.5M231.9 612.2v6.5M253.1 1137.5v-3.2M253.1 612.2v3.2M274.3 1137.5v-3.2M274.3 612.2v3.2M295.5 1137.5v-3.2M295.5 612.2v3.2M316.7 1137.5v-3.2M316.7 612.2v3.2M337.9 1137.5v-6.5M337.9 612.2v6.5M359.1 1137.5v-3.2M359.1 612.2v3.2M380.3 1137.5v-3.2M380.3 612.2v3.2M401.5 1137.5v-3.2M401.5 612.2v3.2M422.7 1137.5v-3.2M422.7 612.2v3.2M443.9 1137.5v-6.5M443.9 612.2v6.5M465.1 1137.5v-3.2M465.1 612.2v3.2M486.3 1137.5v-3.2M486.3 612.2v3.2M507.5 1137.5v-3.2M507.5 612.2v3.2M528.7 1137.5v-3.2M528.7 612.2v3.2M549.9 1137.5v-6.5M549.9 612.2v6.5M571.1 1137.5v-3.2M571.1 612.2v3.2M83.5 1116.5h3.2M592.3 1116.5h-3.2M83.5 1095.5h3.2M592.3 1095.5h-3.2M83.5 1074.5h3.2M592.3 1074.5h-3.2M83.5 1053.5h3.2M592.3 1053.5h-3.2M83.5 1032.4h6.5M592.3 1032.4h-6.5M83.5 1011.4h3.2M592.3 1011.4h-3.2M83.5 990.4h3.2M592.3 990.4h-3.2M83.5 969.4h3.2M592.3 969.4h-3.2M83.5 948.4h3.2M592.3 948.4h-3.2M83.5 927.4h6.5M592.3 927.4h-6.5M83.5 906.4h3.2M592.3 906.4h-3.2M83.5 885.4h3.2M592.3 885.4h-3.2M83.5 864.3h3.2M592.3 864.3h-3.2M83.5 843.3h3.2M592.3 843.3h-3.2M83.5 822.3h6.5M592.3 822.3h-6.5M83.5 801.3h3.2M592.3 801.3h-3.2M83.5 780.3h3.2M592.3 780.3h-3.2M83.5 759.3h3.2M592.3 759.3h-3.2M83.5 738.3h3.2M592.3 738.3h-3.2M83.5 717.3h6.5M592.3 717.3h-6.5M83.5 696.2h3.2M592.3 696.2h-3.2M83.5 675.2h3.2M592.3 675.2h-3.2M83.5 654.2h3.2M592.3 654.2h-3.2M83.5 633.2h3.2M592.3 633.2h-3.2"/>
<rect class="f" x="83.5" y="612.2" width="508.8" height="525.3"/>
<text class="t" text-anchor="middle" x="125.9" y="1156.8">18.0</text>
<text class="t" text-anchor="middle" x="231.9" y="1156.8">18.5</text>
<text class="t" text-anchor="middle" x="337.9" y="1156.8">19.0</text>
<text class="t" text-anchor="middle" x="443.9" y="1156.8">19.5</text>
<text class="t" text-anchor="middle" x="549.9" y="1156.8">20.0</text>
<text class="t" text-anchor="end" x="76" y="1143.7">0</text>
<text class="t" text-anchor="end" x="76" y="1038.6">10</text>
<text class="t" text-anchor="end" x="76" y="933.6">20</text>
<text class="t" text-anchor="end" x="76" y="828.5">30</text>
<text class="t" text-anchor="end" x="76" y="723.5">40</text>
<text class="t" text-anchor="end" x="76" y="618.4">50</text>
<text class="l" transform="translate(0 1185.5) scale(1 1.08)" y="0"><tspan x="292.4" textLength="13.0" lengthAdjust="spacingAndGlyphs" font-style="italic">r</tspan> <tspan x="317.0" textLength="63.4" lengthAdjust="spacingAndGlyphs">[mag]</tspan></text>
<text class="l" text-anchor="middle" transform="translate(49.3 875) rotate(-90) scale(1 1.06)" textLength="37" lengthAdjust="spacingAndGlyphs">SN</text>
<text class="l" y="664.6" style="fill:#0000ff"><tspan x="264.6" textLength="33.4" lengthAdjust="spacingAndGlyphs">0.0</tspan> <tspan x="309.5" textLength="19.0" lengthAdjust="spacingAndGlyphs" dy="2.3" font-size="34.3">&lt;</tspan> <tspan dy="-2.3" x="339.8" textLength="97.8" lengthAdjust="spacingAndGlyphs">plateSN</tspan><tspan x="438.8" textLength="7.0" lengthAdjust="spacingAndGlyphs" dy="-1.6" font-size="14">_</tspan><tspan x="446.8" textLength="10.0" lengthAdjust="spacingAndGlyphs" dy="1.6">r</tspan> <tspan x="469.4" textLength="17.8" lengthAdjust="spacingAndGlyphs" dy="2.6" font-size="46.3">≤</tspan> <tspan x="498.8" textLength="49.0" lengthAdjust="spacingAndGlyphs" dy="-2.6">50.0</tspan></text>
<text class="l" y="706.6" style="fill:#008000"><tspan x="264.6" textLength="48.6" lengthAdjust="spacingAndGlyphs">50.0</tspan> <tspan x="323.9" textLength="19.0" lengthAdjust="spacingAndGlyphs" dy="2.3" font-size="34.3">&lt;</tspan> <tspan dy="-2.3" x="354.2" textLength="97.8" lengthAdjust="spacingAndGlyphs">plateSN</tspan><tspan x="453.2" textLength="7.0" lengthAdjust="spacingAndGlyphs" dy="-1.6" font-size="14">_</tspan><tspan x="461.2" textLength="10.0" lengthAdjust="spacingAndGlyphs" dy="1.6">r</tspan> <tspan x="483.8" textLength="17.8" lengthAdjust="spacingAndGlyphs" dy="2.6" font-size="46.3">≤</tspan> <tspan x="513.2" textLength="49.0" lengthAdjust="spacingAndGlyphs" dy="-2.6">70.0</tspan></text>
<text class="l" y="748.8" style="fill:#bfbf00"><tspan x="264.6" textLength="48.6" lengthAdjust="spacingAndGlyphs">70.0</tspan> <tspan x="323.9" textLength="19.0" lengthAdjust="spacingAndGlyphs" dy="2.3" font-size="34.3">&lt;</tspan> <tspan dy="-2.3" x="354.2" textLength="97.8" lengthAdjust="spacingAndGlyphs">plateSN</tspan><tspan x="453.2" textLength="7.0" lengthAdjust="spacingAndGlyphs" dy="-1.6" font-size="14">_</tspan><tspan x="461.2" textLength="10.0" lengthAdjust="spacingAndGlyphs" dy="1.6">r</tspan> <tspan x="483.8" textLength="17.8" lengthAdjust="spacingAndGlyphs" dy="2.6" font-size="46.3">≤</tspan> <tspan x="513.2" textLength="49.0" lengthAdjust="spacingAndGlyphs" dy="-2.6">85.0</tspan></text>
<text class="l" y="790.8" style="fill:#ff0000"><tspan x="264.6" textLength="48.6" lengthAdjust="spacingAndGlyphs">85.0</tspan> <tspan x="323.9" textLength="19.0" lengthAdjust="spacingAndGlyphs" dy="2.3" font-size="34.3">&lt;</tspan> <tspan dy="-2.3" x="354.2" textLength="97.8" lengthAdjust="spacingAndGlyphs">plateSN</tspan><tspan x="453.2" textLength="7.0" lengthAdjust="spacingAndGlyphs" dy="-1.6" font-size="14">_</tspan><tspan x="461.2" textLength="10.0" lengthAdjust="spacingAndGlyphs" dy="1.6">r</tspan></text>
</svg></body></html>
